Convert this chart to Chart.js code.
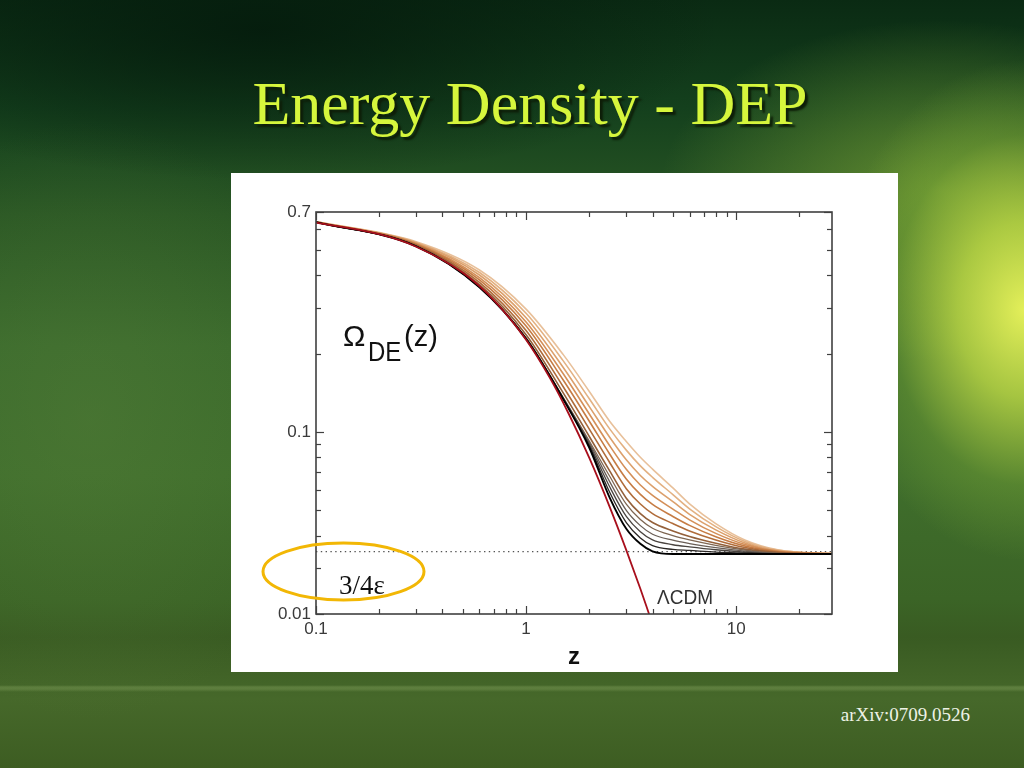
<!DOCTYPE html>
<html>
<head>
<meta charset="utf-8">
<script src="https://cdn.jsdelivr.net/npm/chart.js"></script>
<style>
  html, body { margin:0; padding:0; }
  body {
    width:1024px; height:768px; overflow:hidden; position:relative;
    background:
      radial-gradient(ellipse 190px 250px at 1024px 310px, rgba(236,246,92,0.95) 0%, rgba(200,226,72,0.75) 35%, rgba(130,175,55,0.35) 70%, rgba(80,130,40,0) 100%),
      radial-gradient(ellipse 280px 170px at 940px 190px, rgba(150,190,60,0.55) 0%, rgba(120,170,50,0) 100%),
      radial-gradient(ellipse 460px 150px at 260px 30px, rgba(4,26,12,0.85) 0%, rgba(4,26,12,0) 100%),
      radial-gradient(ellipse 240px 300px at 90px 420px, rgba(90,130,60,0.35) 0%, rgba(90,130,60,0) 100%),
      linear-gradient(180deg, rgba(0,0,0,0) 0px, rgba(0,0,0,0) 685px, rgba(140,170,100,0.35) 687px, rgba(140,170,100,0.35) 689px, rgba(0,0,0,0) 692px),
      linear-gradient(180deg, #0a2a13 0%, #14401d 14%, #2a5724 28%, #3a6a2c 45%, #3f6e2c 62%, #3b6426 78%, #395b22 83%, #46682a 91%, #3d5d22 100%);
    font-family: "Liberation Sans", Arial, sans-serif;
  }
  #title {
    position:absolute; left:130px; top:72px; width:800px; text-align:center;
    font-family:"Liberation Serif", "Times New Roman", serif; font-size:62px; line-height:62px;
    color:#d6f63c; text-shadow: 3px 3px 2px #0e1e08;
    white-space:nowrap;
  }
  #panel {
    position:absolute; left:231px; top:173px; width:667px; height:499px; background:#ffffff;
  }
  #arxiv {
    position:absolute; left:770px; top:705px; width:200px; text-align:right;
    font-family:"Liberation Serif", "Times New Roman", serif; font-size:19px; line-height:19px;
    color:#eef2e6; white-space:nowrap;
  }
</style>
</head>
<body>
<div id="title">Energy Density - DEP</div>
<div id="panel"><canvas id="c" width="667" height="499"></canvas></div>
<div id="arxiv">arXiv:0709.0526</div>
<script>
// ---------- data ----------
const zGrid = [0.1, 0.3, 0.6, 1, 1.5, 2, 2.5, 3, 3.5, 4, 5, 6, 8, 11, 16, 28.6];

// black curve
const curveBlack = [0.640, 0.517, 0.360, 0.2280, 0.1340, 0.0870, 0.0560, 0.0425, 0.0372, 0.0348, 0.0340, 0.0340, 0.0340, 0.0340, 0.0340, 0.0340];
// dark grey / brown curves
const curveDark1 = [0.640, 0.517, 0.360, 0.2280, 0.1345, 0.0883, 0.0587, 0.0449, 0.0392, 0.0366, 0.0354, 0.0351, 0.0346, 0.0343, 0.0340, 0.0340];
const curveDark2 = [0.640, 0.517, 0.361, 0.2290, 0.1350, 0.0896, 0.0616, 0.0474, 0.0414, 0.0385, 0.0369, 0.0362, 0.0353, 0.0346, 0.0341, 0.0340];
const curveDark3 = [0.640, 0.517, 0.361, 0.2290, 0.1355, 0.0910, 0.0645, 0.0500, 0.0437, 0.0405, 0.0384, 0.0373, 0.0360, 0.0349, 0.0341, 0.0340];
const curveDark4 = [0.640, 0.517, 0.361, 0.2300, 0.1360, 0.0924, 0.0676, 0.0528, 0.0461, 0.0427, 0.0400, 0.0385, 0.0367, 0.0352, 0.0342, 0.0340];
// orange / tan curves
const curveOrange1 = [0.640, 0.520, 0.368, 0.2365, 0.1416, 0.0961, 0.0709, 0.0557, 0.0486, 0.0449, 0.0417, 0.0397, 0.0374, 0.0355, 0.0344, 0.0340];
const curveOrange2 = [0.641, 0.523, 0.376, 0.2454, 0.1496, 0.1026, 0.0764, 0.0606, 0.0529, 0.0486, 0.0445, 0.0417, 0.0385, 0.0360, 0.0345, 0.0340];
const curveOrange3 = [0.641, 0.526, 0.384, 0.2552, 0.1587, 0.1100, 0.0823, 0.0660, 0.0576, 0.0527, 0.0474, 0.0438, 0.0396, 0.0365, 0.0347, 0.0340];
const curveOrange4 = [0.642, 0.529, 0.392, 0.2648, 0.1678, 0.1173, 0.0886, 0.0719, 0.0626, 0.0571, 0.0506, 0.0460, 0.0408, 0.0370, 0.0348, 0.0341];
const curveOrange5 = [0.642, 0.532, 0.401, 0.2747, 0.1773, 0.1252, 0.0955, 0.0782, 0.0681, 0.0618, 0.0540, 0.0483, 0.0421, 0.0375, 0.0349, 0.0341];
const curveOrange6 = [0.643, 0.535, 0.410, 0.2857, 0.1880, 0.1342, 0.1028, 0.0852, 0.0741, 0.0670, 0.0575, 0.0507, 0.0433, 0.0380, 0.0351, 0.0341];
const curveOrange7 = [0.643, 0.538, 0.419, 0.2964, 0.1987, 0.1432, 0.1100, 0.0920, 0.0800, 0.0720, 0.0610, 0.0530, 0.0445, 0.0385, 0.0352, 0.0341];

const darkColors   = ['#000000', '#2a2624', '#4a4440', '#6a5e56', '#7e6652'];
const orangeColors = ['#94603a', '#b06c3a', '#c67c44', '#d48f58', '#dca06c', '#e3b182', '#e8c09a'];

const lcdmZ     = [0.1, 0.2, 0.3, 0.5, 0.7, 1, 1.3, 1.6, 2, 2.5, 3, 3.5, 3.85];
const lcdmOmega = [0.637, 0.575, 0.515, 0.409, 0.322, 0.226, 0.161, 0.117, 0.0795, 0.0516, 0.0352, 0.0250, 0.0200];

const plateauZ = [0.1, 28.6];
const plateauOmega = [0.0347, 0.0347];

const xTickValues = [0.1, 1, 10];
const xTickLabels = ['0.1', '1', '10'];
const yTickValues = [0.02, 0.1, 0.7];
const yTickLabels = ['0.01', '0.1', '0.7'];
const xMinorValues = [0.2,0.3,0.4,0.5,0.6,0.7,0.8,0.9, 2,3,4,5,6,7,8,9, 20];
const yMinorValues = [0.03,0.04,0.05,0.06,0.07,0.08,0.09, 0.2,0.3,0.4,0.5,0.6];

// ---------- build datasets ----------
const darkCurves = [curveBlack, curveDark1, curveDark2, curveDark3, curveDark4];
const orangeCurves = [curveOrange1, curveOrange2, curveOrange3, curveOrange4, curveOrange5, curveOrange6, curveOrange7];
const pts = (xs, ys) => xs.map((x, i) => ({x: x, y: ys[i]}));

const datasets = [];
datasets.push({ label:'ΛCDM', data: pts(lcdmZ, lcdmOmega), borderColor:'#a80f1c', borderWidth:1.8,
  pointRadius:0, cubicInterpolationMode:'monotone', order:0 });
darkCurves.forEach((c, i) => {
  datasets.push({ label:'d'+i, data: pts(zGrid, c), borderColor: darkColors[i],
    borderWidth: i === 0 ? 1.9 : 1.3, pointRadius:0, cubicInterpolationMode:'monotone', order: 1 + i });
});
orangeCurves.forEach((c, i) => {
  datasets.push({ label:'o'+i, data: pts(zGrid, c), borderColor: orangeColors[i],
    borderWidth: 1.6, pointRadius:0, cubicInterpolationMode:'monotone', order: 10 + i });
});
datasets.push({ label:'3/4eps', data: pts(plateauZ, plateauOmega), borderColor:'#555555', borderWidth:1.2,
  borderDash:[1.4, 3.4], pointRadius:0, tension:0, order: 50 });

// ---------- plugin: frame, inward ticks, annotations ----------
const decor = {
  id: 'decor',
  afterDraw(chart) {
    const ctx = chart.ctx;
    const {left, top, right, bottom} = chart.chartArea;
    const xs = chart.scales.x, ys = chart.scales.y;
    ctx.save();
    ctx.strokeStyle = '#404040';
    ctx.lineWidth = 1.6;
    ctx.strokeRect(left, top, right - left, bottom - top);
    ctx.lineWidth = 1.2;
    const line = (x1, y1, x2, y2) => { ctx.beginPath(); ctx.moveTo(x1, y1); ctx.lineTo(x2, y2); ctx.stroke(); };
    xMinorValues.concat(xTickValues).forEach(v => {
      const p = Math.round(xs.getPixelForValue(v)) + 0.5;
      const len = xTickValues.includes(v) ? 8 : 5;
      line(p, bottom, p, bottom - len);
      line(p, top, p, top + len);
    });
    yMinorValues.concat(yTickValues).forEach(v => {
      const p = Math.round(ys.getPixelForValue(v)) + 0.5;
      const len = yTickValues.includes(v) ? 8 : 5;
      line(left, p, left + len, p);
      line(right, p, right - len, p);
    });
    const sText = (txt, x, y, font, sy) => {
      ctx.save(); ctx.translate(x, y); ctx.scale(1, sy); ctx.font = font; ctx.fillText(txt, 0, 0); ctx.restore();
    };
    // Omega_DE(z) label
    ctx.fillStyle = '#111111';
    ctx.textBaseline = 'middle';
    ctx.textAlign = 'left';
    sText('Ω', 112, 165, '30px "Liberation Sans", Arial, sans-serif', 1.0);
    sText('DE', 137, 180, '24px "Liberation Sans", Arial, sans-serif', 1.18);
    sText('(z)', 173, 165, '29px "Liberation Sans", Arial, sans-serif', 1.0);
    // LCDM label
    ctx.fillStyle = '#333333';
    sText('ΛCDM', 426, 425, '19px "Liberation Sans", Arial, sans-serif', 1.1);
    // ellipse
    ctx.strokeStyle = '#f2b705';
    ctx.lineWidth = 3;
    ctx.beginPath();
    ctx.ellipse(112.5, 398.5, 80.5, 28.5, 0, 0, Math.PI * 2);
    ctx.stroke();
    // 3/4 epsilon
    ctx.fillStyle = '#111111';
    sText('3/4ε', 108, 414, '27px "Liberation Serif", "Times New Roman", serif', 1.05);
    ctx.restore();
  }
};

new Chart(document.getElementById('c'), {
  type: 'line',
  data: { datasets },
  options: {
    responsive: false,
    animation: false,
    devicePixelRatio: 1,
    layout: { padding: { left: 0, right: 66, top: 39, bottom: 0 } },
    plugins: { legend: { display:false }, tooltip: { enabled:false } },
    scales: {
      x: {
        type: 'logarithmic', min: 0.1, max: 28.6,
        grid: { display:false, drawTicks:false },
        border: { display:false },
        afterBuildTicks: s => { s.ticks = xTickValues.map(v => ({ value: v })); },
        afterFit: s => { s.height = 58; },
        ticks: {
          autoSkip:false, maxRotation:0, padding:5,
          color:'#3a3a3a', font: { size:17, family:'"Liberation Sans", Arial, sans-serif' },
          callback: (v, i) => xTickLabels[i]
        },
        title: { display:true, text:'z', color:'#111111',
          font: { size:24, weight:'bold', family:'"Liberation Sans", Arial, sans-serif', lineHeight:1 },
          padding: { top:0, bottom:3 } }
      },
      y: {
        type: 'logarithmic', min: 0.02, max: 0.7,
        grid: { display:false, drawTicks:false },
        border: { display:false },
        afterBuildTicks: s => { s.ticks = yTickValues.map(v => ({ value: v })); },
        afterFit: s => { s.width = 85; },
        ticks: {
          autoSkip:false, padding:5,
          color:'#3a3a3a', font: { size:17, family:'"Liberation Sans", Arial, sans-serif' },
          callback: (v, i) => yTickLabels[i]
        }
      }
    }
  },
  plugins: [decor]
});
</script>
</body>
</html>
